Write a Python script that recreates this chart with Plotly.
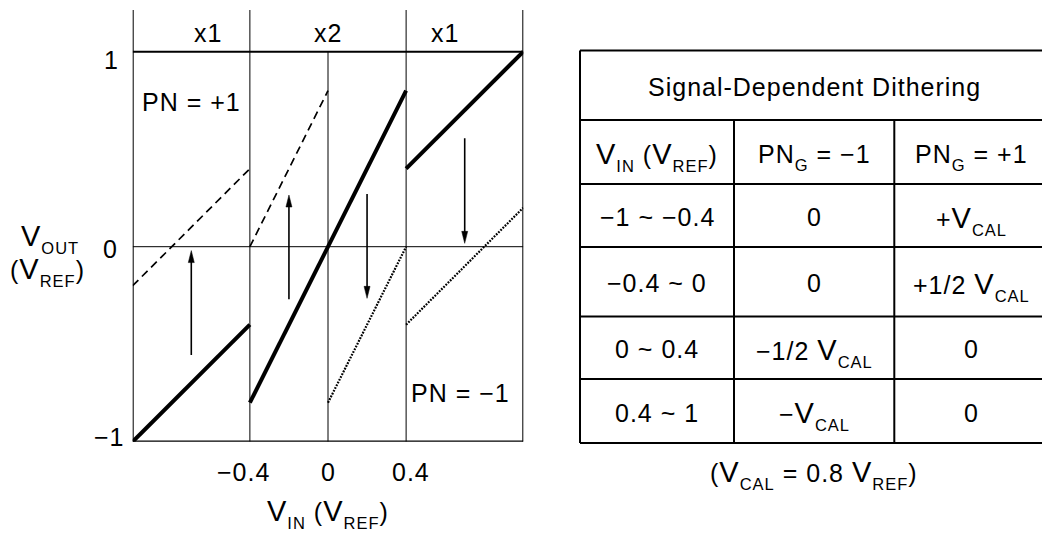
import re
import plotly.graph_objects as go

W, H = 1042, 534

# ---- transfer characteristics (V_IN, V_OUT in units of V_REF); None splits segments
vin_main = [-1, -0.4, None, -0.4, 0.4, None, 0.4, 1]
vout_main = [-1, -0.4, None, -0.8, 0.8, None, 0.4, 1]
vin_pn_pos = [-1, -0.4, None, -0.4, 0]
vout_pn_pos = [-0.2, 0.4, None, 0, 0.8]
vin_pn_neg = [0, 0.4, None, 0.4, 1]
vout_pn_neg = [-0.8, 0, None, -0.4, 0.2]

# ---- dither shift arrows: input position, tail level, tip level
arrow_x = [-0.7, -0.2, 0.2, 0.7]
arrow_from = [-0.555, -0.27, 0.27, 0.556]
arrow_to = [-0.02, 0.265, -0.265, 0.017]

# ---- sub-range boundaries and gain labels
region_bounds = [-0.4, 0, 0.4]
gain_x = [-0.615, 0, 0.6]
gain_text = ["x1", "x2", "x1"]

# ---- tick labels
xtick_vals = [-0.4, 0, 0.4]
xtick_text = ["\u22120.4", "0", "0.4"]
ytick_vals = [1, 0, -1]
ytick_text = ["1", "0", "\u22121"]

# ---- dithering table
table_title = "Signal-Dependent Dithering"
table_header = ["V_IN (V_REF)", "PN_G = \u22121", "PN_G = +1"]
vin_ranges = ["\u22121 ~ \u22120.4", "\u22120.4 ~ 0", "0 ~ 0.4", "0.4 ~ 1"]
dither_pn_minus = ["0", "0", "\u22121/2 V_CAL", "\u2212V_CAL"]
dither_pn_plus = ["+V_CAL", "+1/2 V_CAL", "0", "0"]
table_note = "(V_CAL = 0.8 V_REF)"

# ---- styling
FONT = "Liberation Sans, Arial, Helvetica, sans-serif"
FS = 25        # body text
V_FS = 29      # the letter V is set larger
SUB_FS = 16.5  # subscripts
SUB_SHIFT = 8  # subscript drop (px)
LS = 1.0       # letter spacing (px)
INK = "#000000"


def rich(s):
    """Convert 'X_SUB' tokens to styled subscript markup."""
    def rep(m):
        base, sub = m.group(1), m.group(2)
        if base == "V":
            base = f'<span style="font-size:{V_FS}px">V</span>'
        return base + (f'<span style="font-size:{SUB_FS}px;'
                       f'baseline-shift:-{SUB_SHIFT}px">{sub}</span>')
    body = re.sub(r"([A-Z]+)_([A-Z]+)", rep, s)
    return f'<span style="letter-spacing:{LS}px">{body}</span>'


def pxx(px):
    return px / W


def pxy(py):
    return 1 - py / H


fig = go.Figure()

# plot window: x=-1..1 -> px 132.7..523.3, y=-1..Y_TOP -> px 441.7..10
Y_TOP = 1.2137
fig.update_layout(
    width=W, height=H,
    margin=dict(l=0, r=0, t=0, b=0),
    paper_bgcolor="white", plot_bgcolor="white",
    showlegend=False,
    xaxis=dict(domain=[pxx(132.7), pxx(523.3)], range=[-1, 1],
               visible=False, fixedrange=True),
    yaxis=dict(domain=[pxy(441.7), pxy(10)], range=[-1, Y_TOP],
               visible=False, fixedrange=True),
    font=dict(family=FONT, size=FS, color=INK),
)

shapes = []


def seg(x0, y0, x1, y1, w, ref="data"):
    if ref == "data":
        shapes.append(dict(type="line", xref="x", yref="y", x0=x0, y0=y0,
                           x1=x1, y1=y1, line=dict(color=INK, width=w),
                           layer="below"))
    else:
        shapes.append(dict(type="line", xref="paper", yref="paper",
                           x0=pxx(x0), y0=pxy(y0), x1=pxx(x1), y1=pxy(y1),
                           line=dict(color=INK, width=w), layer="above"))


# frame of the transfer plot
seg(-1, -1, -1, Y_TOP, 2)
seg(1, -1, 1, Y_TOP, 2)
seg(-1, 1, 1, 1, 2)
seg(-1, -1, 1, -1, 2.5)
seg(-1, 0, 1, 0, 1)
for b in region_bounds:
    seg(b, -1, b, Y_TOP if b != 0 else 1, 1)

# transfer curves
fig.add_trace(go.Scatter(x=vin_main, y=vout_main, mode="lines",
                         line=dict(color=INK, width=4), hoverinfo="skip"))
fig.add_trace(go.Scatter(x=vin_pn_pos, y=vout_pn_pos, mode="lines",
                         line=dict(color=INK, width=1.7, dash="8px,5px"),
                         hoverinfo="skip"))
fig.add_trace(go.Scatter(x=vin_pn_neg, y=vout_pn_neg, mode="lines",
                         line=dict(color=INK, width=2.2, dash="1.8px,1.3px"),
                         hoverinfo="skip"))

# arrows: shaft + filled head
HEAD_L = 12 / 195.0
HEAD_HW = 3 / 195.5
for xa, y0, y1 in zip(arrow_x, arrow_from, arrow_to):
    d = 1 if y1 > y0 else -1
    yb = y1 - d * HEAD_L
    fig.add_trace(go.Scatter(x=[xa, xa], y=[y0, yb + d * 0.01], mode="lines",
                             line=dict(color=INK, width=1.6),
                             hoverinfo="skip"))
    shapes.append(dict(type="path", xref="x", yref="y",
                       path=f"M {xa},{y1} L {xa - HEAD_HW},{yb} "
                            f"L {xa + HEAD_HW},{yb} Z",
                       fillcolor=INK, line=dict(color=INK, width=0.5)))

annotations = []


def note(text, **kw):
    base = dict(text=rich(text), showarrow=False, font=dict(family=FONT,
                size=FS, color=INK), xanchor="center", yanchor="middle")
    base.update(kw)
    annotations.append(base)


# gain labels above the window
for gx, gt in zip(gain_x, gain_text):
    note(gt, xref="x", yref="y", x=gx, y=1.094)

# tick labels
for v, t, dx in zip(xtick_vals, xtick_text, [-6.7, 0, 5]):
    note(t, xref="x", yref="paper", x=v, y=pxy(472), xshift=dx)
for v, t, dy, cx in zip(ytick_vals, ytick_text, [-8.3, -2.3, 4.7],
                        [111.7, 110.8, 109]):
    note(t, xref="paper", yref="y", x=pxx(cx), y=v, yshift=dy)

# axis titles
note("V_IN (V_REF)", xref="x", yref="paper", x=0, y=pxy(513))
note("V_OUT", xref="paper", yref="paper", x=pxx(50), y=pxy(238))
note("(V_REF)", xref="paper", yref="paper", x=pxx(47.5), y=pxy(271))

# PN labels
note("PN = +1", xref="x", yref="y", x=-0.965, y=0.744, xanchor="left")
note("PN = \u22121", xref="x", yref="y", x=0.415, y=-0.752, xanchor="left")

# ---- table grid (pixel layout)
T_L, T_R = 580, 1049
col_x = [580, 734, 894.3, 1049]
row_y = [50.5, 120, 184, 247, 316.5, 379, 443]
for y in row_y:
    seg(T_L, y, T_R, y, 2, ref="px")
seg(T_L, row_y[0], T_L, row_y[-1], 2, ref="px")
for cx in col_x[1:3]:
    seg(cx, row_y[1], cx, row_y[-1], 2, ref="px")

# table text
note(table_title, xref="paper", yref="paper", x=pxx((T_L + T_R) / 2),
     y=pxy(87))
col_c = [(col_x[i] + col_x[i + 1]) / 2 for i in range(3)]
row_c = [(row_y[i] + row_y[i + 1]) / 2 + 1.5 for i in range(1, 6)]
rows = [table_header] + [list(r) for r in zip(vin_ranges, dither_pn_minus,
                                                 dither_pn_plus)]
for rc, row in zip(row_c, rows):
    for cc, cell in zip(col_c, row):
        sub_drop = 3 if "_" in cell else 0
        note(cell, xref="paper", yref="paper", x=pxx(cc), y=pxy(rc + sub_drop))
note(table_note, xref="paper", yref="paper", x=pxx(814), y=pxy(474))

fig.update_layout(shapes=shapes, annotations=annotations)
fig.write_html("out.html")
